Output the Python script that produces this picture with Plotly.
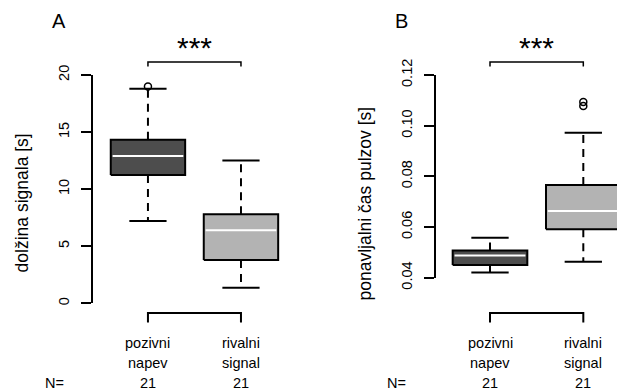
import plotly.graph_objects as go

# Group labels (two lines each) and sample sizes
group_line1 = ["pozivni", "rivalni"]
group_line2 = ["napev", "signal"]
group_n = [21, 21]

# Panel A: signal duration [s] - five-number summaries per group
dur_lower = [7.22, 1.37]
dur_q1 = [11.25, 3.80]
dur_median = [12.90, 6.40]
dur_q3 = [14.33, 7.80]
dur_upper = [18.80, 12.50]
dur_outliers = [[19.0], []]
dur_ticks = [0, 5, 10, 15, 20]

# Panel B: pulse repetition period [s]
rep_lower = [0.0421, 0.0463]
rep_q1 = [0.0450, 0.0591]
rep_median = [0.0488, 0.0663]
rep_q3 = [0.0507, 0.0766]
rep_upper = [0.0558, 0.0972]
rep_outliers = [[], [0.1078, 0.1093]]
rep_ticks = [0.04, 0.06, 0.08, 0.10, 0.12]
rep_ticktext = ["0.04", "0.06", "0.08", "0.10", "0.12"]

box_fills = ["#4d4d4d", "#b3b3b3"]
FONT = "Liberation Sans, Arial, sans-serif"
BOX_W = 0.80
CAP_W = 0.40
LW = 2

fig = go.Figure()


def add_boxes(xa, ya, lower, q1, med, q3, upper, outliers):
    for i in range(len(q1)):
        c = i + 1
        l, r = c - BOX_W / 2, c + BOX_W / 2
        # dashed whiskers
        for a, b in ((q3[i], upper[i]), (q1[i], lower[i])):
            fig.add_trace(go.Scatter(x=[c, c], y=[a, b], mode="lines", xaxis=xa, yaxis=ya,
                                     line=dict(color="black", width=LW, dash="8px,6px"),
                                     hoverinfo="skip", showlegend=False))
        # whisker caps
        for v in (upper[i], lower[i]):
            fig.add_trace(go.Scatter(x=[c - CAP_W / 2, c + CAP_W / 2], y=[v, v], mode="lines",
                                     xaxis=xa, yaxis=ya, line=dict(color="black", width=LW),
                                     hoverinfo="skip", showlegend=False))
        # box body
        fig.add_trace(go.Scatter(x=[l, r, r, l, l], y=[q1[i], q1[i], q3[i], q3[i], q1[i]],
                                 mode="lines", fill="toself", fillcolor=box_fills[i],
                                 xaxis=xa, yaxis=ya, line=dict(color="black", width=LW),
                                 hoverinfo="skip", showlegend=False))
        # median
        fig.add_trace(go.Scatter(x=[l + 0.02, r - 0.02], y=[med[i], med[i]], mode="lines",
                                 xaxis=xa, yaxis=ya, line=dict(color="white", width=LW),
                                 hoverinfo="skip", showlegend=False))
        # outliers
        if outliers[i]:
            fig.add_trace(go.Scatter(x=[c] * len(outliers[i]), y=outliers[i], mode="markers",
                                     xaxis=xa, yaxis=ya, cliponaxis=False,
                                     marker=dict(symbol="circle-open", size=7, color="black",
                                                 line=dict(width=1.5)),
                                     hoverinfo="skip", showlegend=False))


add_boxes("x", "y", dur_lower, dur_q1, dur_median, dur_q3, dur_upper, dur_outliers)
add_boxes("x2", "y2", rep_lower, rep_q1, rep_median, rep_q3, rep_upper, rep_outliers)

yaxis_common = dict(showgrid=False, zeroline=False, showline=True, linecolor="black",
                    linewidth=LW, ticks="outside", ticklen=10, tickwidth=LW,
                    tickcolor="black", tickangle=-90, ticklabelstandoff=6, automargin=False,
                    tickfont=dict(family=FONT, size=14.5, color="black"))

fig.update_layout(
    template="none",
    width=617, height=390,
    margin=dict(l=0, r=0, t=0, b=0, pad=0, autoexpand=False),
    paper_bgcolor="white", plot_bgcolor="white",
    showlegend=False,
    xaxis=dict(domain=[0.1507, 0.470], range=[0.409, 2.527], visible=False,
               anchor="y", automargin=False),
    yaxis=dict(domain=[0.2223, 0.8077], range=[0, 20], tickvals=dur_ticks,
               anchor="x", **yaxis_common),
    xaxis2=dict(domain=[0.7066, 1.0], range=[0.421, 2.361], visible=False,
                anchor="y2", automargin=False),
    yaxis2=dict(domain=[0.2879, 0.8077], range=[0.04, 0.12], tickvals=rep_ticks,
                ticktext=rep_ticktext, anchor="x2", **yaxis_common),
)

shapes = []
annotations = []


def label(text, x, y, size, xref="paper", angle=0):
    annotations.append(dict(text=text, xref=xref, yref="paper", x=x, y=y,
                            xanchor="center", yanchor="middle", textangle=angle,
                            showarrow=False, font=dict(family=FONT, size=size, color="black")))


panels = [("x", "A", 0.0956, "dolžina signala [s]", 0.036, 0.088),
          ("x2", "B", 0.650, "ponavljalni čas pulzov [s]", 0.592, 0.643)]

for xref, letter, letter_x, ytitle, ytitle_x, n_x in panels:
    # significance bracket
    shapes.append(dict(type="path", xref=xref, yref="paper",
                       path="M 1,0.8295 L 1,0.841 L 2,0.841 L 2,0.8295",
                       line=dict(color="black", width=1.5)))
    label("***", 1.5, 0.878, 30, xref=xref)
    # group axis bracket
    shapes.append(dict(type="path", xref=xref, yref="paper",
                       path="M 1,0.1731 L 1,0.1974 L 2,0.1974 L 2,0.1731",
                       line=dict(color="black", width=LW)))
    for i in range(len(group_line1)):
        label(group_line1[i], i + 1, 0.1213, 14.5, xref=xref)
        label(group_line2[i], i + 1, 0.0685, 14.5, xref=xref)
        label(str(group_n[i]), i + 1, 0.0167, 14.5, xref=xref)
    label("N=", n_x, 0.0167, 14.5)
    label(letter, letter_x, 0.946, 20)
    label(ytitle, ytitle_x, 0.479, 17.5, angle=-90)

fig.update_layout(shapes=shapes, annotations=annotations)
fig.write_html("out.html")
